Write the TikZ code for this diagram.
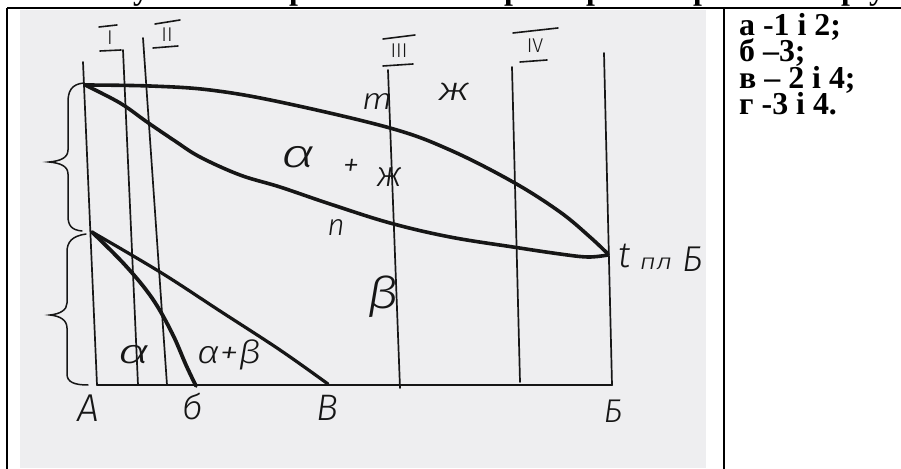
\documentclass[tikz,border=0pt]{standalone}
\usepackage{graphicx}
\usepackage{fontspec}
\setmainfont{Liberation Serif}
\newfontfamily\handfont{Fira Sans}[UprightFont={* Light}, ItalicFont={* Light Italic}]
\definecolor{paper}{RGB}{238,238,240}
\definecolor{ink}{RGB}{22,22,22}
\newcommand{\hs}[3]{\scalebox{#1}[#2]{#3}}
\begin{document}
\begin{tikzpicture}[x=1bp,y=-1bp,
  thickcurve/.style={line width=3.6bp, ink, line cap=round, line join=round},
  vline/.style={line width=1.7bp, ink, line cap=round},
  bracestroke/.style={line width=1.5bp, ink, line cap=round},
  bar/.style={line width=1.6bp, ink, line cap=round},
  tableline/.style={line width=2.2bp, black},
  hand/.style={font=\handfont\itshape\fontsize{30}{30}\selectfont, text=ink, inner sep=0pt},
  roman/.style={font=\handfont\fontsize{20}{20}\selectfont, text=ink, inner sep=0pt},
  answer/.style={font=\bfseries\fontsize{32}{27}\selectfont, anchor=base west, inner sep=0pt, text depth=0.08em, text height=0.62em},
  header/.style={font=\bfseries\fontsize{32}{32}\selectfont, anchor=base, inner sep=0pt},
]
\useasboundingbox (0,0) rectangle (901,469);
\fill[white] (0,0) rectangle (901,469);
\fill[paper] (20,10) rectangle (706,468);

% clipped header line (only descenders visible)
\begin{scope}
\clip (0,0) rectangle (901,469);
\node[header] (h1) at (141,-0.5) {у};
\node[header] (h2) at (298,-0.5) {р};
\node[header] (h3) at (513,-0.5) {р};
\node[header] (h4) at (595,-0.5) {р};
\node[header] (h5) at (702,-0.5) {р};
\node[header] (h6) at (850,-0.5) {р};
\node[header] (h7) at (877,-0.5) {у};
\end{scope}

% table lines
\draw[tableline] (7,8) -- (901,8);
\draw[tableline] (7,8) -- (7,469);
\draw[tableline] (724,8) -- (724,469);

% vertical composition lines
\coordinate (Atop) at (83,62);   \coordinate (Abot) at (97,385);
\coordinate (Itop) at (123,50);  \coordinate (Ibot) at (138,385);
\coordinate (IItop) at (143,38); \coordinate (IIbot) at (167,385);
\coordinate (IIItop) at (388,70);\coordinate (IIIbot) at (400,388);
\coordinate (IVtop) at (512,67); \coordinate (IVbot) at (520,382);
\coordinate (Btop) at (604,53);  \coordinate (Bbot) at (612,385);
\draw[vline] (Atop) -- (Abot);
\draw[vline] (Itop) -- (Ibot);
\draw[vline] (IItop) -- (IIbot);
\draw[vline] (IIItop) -- (IIIbot);
\draw[vline] (IVtop) -- (IVbot);
\draw[vline] (Btop) -- (Bbot);
\draw[vline, line width=2bp] (Abot) -- (Bbot);

% liquidus m and solidus n
\draw[thickcurve] plot[smooth, tension=0.6] coordinates {(85,85) (150,86) (210,90) (280,102) (390,128) (450,150) (513,182) (560,212) (590,237) (608,254)};
\draw[thickcurve] plot[smooth, tension=0.6] coordinates {(85,85) (120,103) (147,122) (175,141) (200,157) (240,175) (280,187) (330,204) (390,223) (450,237) (513,247) (560,254) (588,257) (608,255)};

% solvus lines
\draw[thickcurve, line width=3.2bp] plot[smooth, tension=0.6] coordinates {(92,232) (160,272) (220,311) (280,350) (328,384)};
\draw[thickcurve, line width=3.8bp] plot[smooth, tension=0.6] coordinates {(92,232) (125,265) (152,298) (172,333) (186,365) (196,386)};

% braces
\draw[bracestroke] (84,83) .. controls (71,84) and (68,92) .. (68,102) -- (68,150)
  .. controls (68,158) and (60,161) .. (49,162) .. controls (60,163) and (68,166) .. (68,174)
  -- (68,216) .. controls (68,226) and (72,230) .. (82,231);
\draw[bracestroke] (86,234) .. controls (72,236) and (67,242) .. (67,252) -- (67,303)
  .. controls (67,310) and (60,314) .. (50,315) .. controls (60,316) and (67,320) .. (67,328)
  -- (67,374) .. controls (67,382) and (74,385) .. (88,385);

% roman numerals
\node[roman] (rI) at (110,38) {I};
\draw[bar] (99,27) -- (117,25);
\draw[bar] (100,51) -- (121,50);
\node[roman] (rII) at (167,35) {II};
\draw[bar] (155,24) -- (180,20);
\draw[bar] (153,48) -- (178,46);
\node[roman] (rIII) at (399,51) {III};
\draw[bar] (383,39) -- (415,35);
\draw[bar] (383,66) -- (413,64);
\node[roman] (rIV) at (535,46) {IV};
\draw[bar] (513,33) -- (558,28);
\draw[bar] (520,62) -- (547,60);

% region and point labels
\node[hand] (lm) at (377,102) {\hs{1.2}{1}{m}};
\node[hand] (lzh) at (454,92) {\hs{1.5}{1.1}{ж}};
\node[hand, font=\handfont\itshape\fontsize{36}{36}\selectfont] (la1) at (299,157) {\hs{1.6}{1.1}{α}};
\node[hand, font=\handfont\itshape\fontsize{34}{34}\selectfont] (lplus) at (351,168) {+};
\node[hand, font=\handfont\itshape\fontsize{36}{36}\selectfont] (lzh2) at (390,177) {ж};
\node[hand] (ln) at (336,228) {n};
\node[hand, font=\handfont\itshape\fontsize{44}{44}\selectfont] (lb) at (383,297) {\hs{1.2}{1}{β}};
\node[hand, font=\handfont\itshape\fontsize{34}{34}\selectfont] (la2) at (134,355) {\hs{1.6}{1}{α}};
\node[hand, font=\handfont\itshape\fontsize{32}{32}\selectfont] (lab) at (229,355) {\hs{1.2}{1}{α+β}};
\node[hand, font=\handfont\itshape\fontsize{39}{39}\selectfont] (lA) at (88,408) {A};
\node[hand, font=\handfont\itshape\fontsize{36}{36}\selectfont] (lbe) at (193,406) {б};
\node[hand, font=\handfont\itshape\fontsize{37}{37}\selectfont] (lV) at (327,408) {В};
\node[hand, font=\handfont\itshape\fontsize{33}{33}\selectfont] (lB) at (613,411) {Б};
\node[hand, font=\handfont\itshape\fontsize{36}{36}\selectfont] (lt) at (625,256) {t};
\node[hand, font=\handfont\itshape\fontsize{22}{22}\selectfont] (lpl) at (656,264) {\hs{1.3}{1}{пл}};
\node[hand, font=\handfont\itshape\fontsize{36}{36}\selectfont] (lB2) at (693,259) {Б};

% answer options
\node[answer] (o1) at (739,36) {а -1 і 2;};
\node[answer] (o2) at (739,62) {б –3;};
\node[answer] (o3) at (739,89) {в – 2 і 4;};
\node[answer] (o4) at (739,115) {г -3 і 4.};
\end{tikzpicture}
\end{document}
